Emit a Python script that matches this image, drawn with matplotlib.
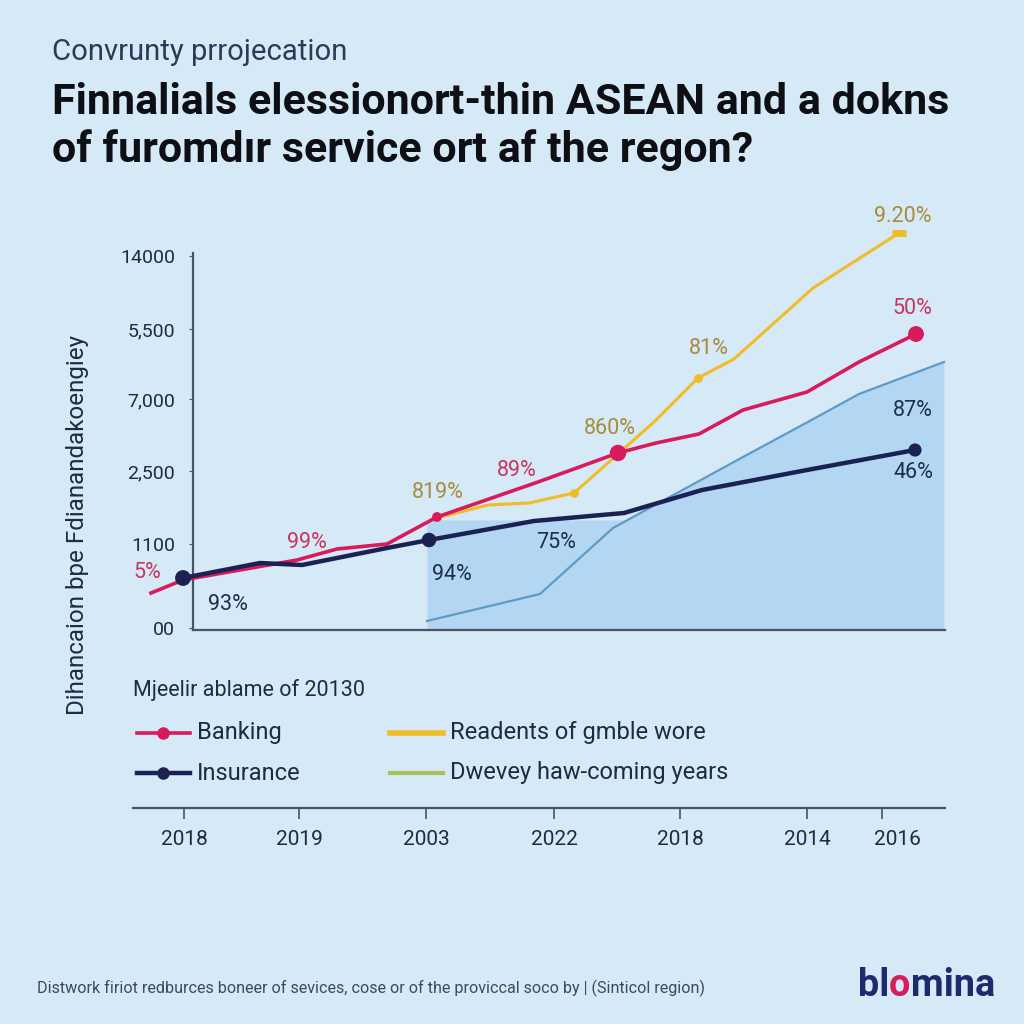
import matplotlib
matplotlib.use("Agg")
import matplotlib.pyplot as plt
from matplotlib.lines import Line2D
from matplotlib.transforms import ScaledTranslation
import numpy as np

plt.rcParams['font.family'] = ['Roboto', 'DejaVu Sans']

# ---------------- data (x in chart units, y in chart units) ----------------
banking_x = [151, 183, 297, 337, 387, 437, 538, 618, 656, 699, 743, 807, 859, 916]
banking_y = [37, 50, 70, 81, 86, 113, 148, 177, 187, 196, 220, 238, 268, 296]
banking_markers = [5, 7, 13]

readents_x = [437, 488, 529, 574, 618, 654, 698, 734, 813, 899]
readents_y = [112, 125, 127, 137, 176, 208, 252, 271, 342, 397]
readents_markers = [3, 6]

insurance_x = [183, 260, 302, 387, 429, 534, 624, 702, 807, 915]
insurance_y = [52, 67, 65, 82, 90, 109, 117, 140, 160, 180]
insurance_markers = [0, 4, 9]

coming_x = [427, 540, 613, 743, 806, 859, 944]
coming_y = [9, 36, 102, 173, 207, 236, 268]

area_x = [427, 625, 743, 806, 859, 944]
area_y = [110, 110, 173, 207, 236, 268]

ytick_vals = [2, 86, 159, 231, 301, 374]
ytick_labels = ['00', '1100', '2,500', '7,000', '5,500', '14000']

xtick_vals = [184, 299, 426, 554, 680, 807, 882]
xtick_labels = ['2018', '2019', '2003', '2022', '2018', '2014', '2016']

annot_text = ['5%', '99%', '819%', '89%', '93%', '94%', '75%', '860%', '81%', '9.20%', '50%', '87%', '46%']
annot_series = ['b', 'b', 'r', 'b', 'i', 'i', 'i', 'r', 'r', 'r', 'b', 'i', 'i']
annot_x = [147, 307, 438, 517, 228, 452, 556, 610, 709, 903, 912, 913, 913]
annot_y = [57, 87, 137, 160, 25, 55, 88, 202, 282, 413, 321, 220, 157]

legend_labels = ['Banking', 'Insurance', 'Readents of gmble wore', 'Dwevey haw-coming years']

# ---------------- styling ----------------
BG = '#d5e9f7'
PINK = '#d81b5a'
NAVY = '#1b2252'
YELLOW = '#f0bd2a'
STEEL = '#5d9bc6'
AREA = '#b2d7f2'
GREEN = '#a9c15a'
SPINE = '#465566'
TXT = '#1e2b44'
annot_colors = {'b': '#c8365f', 'r': '#a88c3a', 'i': '#1f2d4f'}

W = H = 1024
fig = plt.figure(figsize=(10.24, 10.24), dpi=100, facecolor=BG)
renderer = fig.canvas.get_renderer()


def fax(x0, y0, x1, y1):
    return fig.add_axes([x0 / W, 1 - y1 / H, (x1 - x0) / W, (y1 - y0) / H])


def fit_width(t, w):
    bb = t.get_window_extent(renderer)
    t.set_fontsize(t.get_fontsize() * w / bb.width)


# ---------------- main chart ----------------
ax = fax(193, 253, 945, 630)
ax.set_xlim(193, 945)
ax.set_ylim(0, 377)
ax.patch.set_alpha(0)
for s in ['top', 'right']:
    ax.spines[s].set_visible(False)
ax.spines['left'].set_color(SPINE)
ax.spines['bottom'].set_color(SPINE)
ax.spines['left'].set_linewidth(1.6)
ax.spines['bottom'].set_linewidth(1.6)
ax.set_xticks([])
ax.set_yticks(ytick_vals)
ax.set_yticklabels(ytick_labels)
ax.tick_params(axis='y', length=3, color=SPINE, labelsize=14, labelcolor=TXT, pad=10)

ax.fill_between(area_x, 0, area_y, color=AREA, lw=0, alpha=0.95, zorder=1)
ax.plot(coming_x, coming_y, color=STEEL, lw=1.6, zorder=2, clip_on=False)
ax.plot(readents_x, readents_y, color=YELLOW, lw=2.2, zorder=3, clip_on=False)
ax.plot(banking_x, banking_y, color=PINK, lw=2.6, zorder=4, clip_on=False)
ax.plot(insurance_x, insurance_y, color=NAVY, lw=3.2, zorder=5, clip_on=False)

bx = np.array(banking_x); by = np.array(banking_y)
ax.scatter(bx[banking_markers], by[banking_markers], s=[50, 140, 130], color=PINK, zorder=6, clip_on=False, lw=0)
rx = np.array(readents_x); ry = np.array(readents_y)
ax.scatter(rx[readents_markers], ry[readents_markers], s=40, color=YELLOW, zorder=6, clip_on=False, lw=0)
ax.plot([readents_x[-1]], [readents_y[-1]], marker='_', markersize=10, markeredgewidth=5,
        color=YELLOW, zorder=6, clip_on=False, lw=0)
ix = np.array(insurance_x); iy = np.array(insurance_y)
ax.scatter(ix[insurance_markers], iy[insurance_markers], s=[130, 110, 90], color=NAVY, zorder=7, clip_on=False, lw=0)

for t, sser, x, y in zip(annot_text, annot_series, annot_x, annot_y):
    ax.text(x, y, t, color=annot_colors[sser], fontsize=15.5, ha='center', va='center',
            zorder=8, clip_on=False)

# ---------------- x axis (separate band) ----------------
xa = fax(133, 790, 945, 808)
xa.set_xlim(133, 945)
xa.patch.set_alpha(0)
for s in ['top', 'right', 'left']:
    xa.spines[s].set_visible(False)
xa.spines['bottom'].set_color(SPINE)
xa.spines['bottom'].set_linewidth(1.6)
xa.set_yticks([])
xa.set_xticks(xtick_vals)
xa.set_xticklabels(xtick_labels)
xa.tick_params(axis='x', length=8, width=1.2, color=SPINE, labelsize=15, labelcolor=TXT, pad=8)
lbls = xa.get_xticklabels()
lbls[-1].set_transform(lbls[-1].get_transform() + ScaledTranslation(0.15, 0, fig.dpi_scale_trans))

# ---------------- legend ----------------
fig.text(133 / W, 1 - 690 / H, 'Mjeelir ablame of 20130', fontsize=15.5, color=TXT, ha='left', va='center')
leg_rows = [733, 773, 733, 773]
leg_x0 = [137, 137, 390, 390]
leg_colors = [PINK, NAVY, YELLOW, GREEN]
leg_marker = [True, True, False, False]
leg_lw = [2.6, 3.2, 4.0, 3.0]
for lab, y, x0, c, m, lw in zip(legend_labels, leg_rows, leg_x0, leg_colors, leg_marker, leg_lw):
    yy = 1 - y / H
    fig.add_artist(Line2D([x0 / W, (x0 + 53) / W], [yy, yy], transform=fig.transFigure, color=c, lw=lw))
    if m:
        fig.add_artist(Line2D([(x0 + 26) / W], [yy], transform=fig.transFigure, color=c,
                              marker='o', markersize=8, lw=0))
    tx = x0 + 60
    fig.text(tx / W, yy, lab, fontsize=17, color=TXT, ha='left', va='center')

# ---------------- titles ----------------
sub = fig.text(52 / W, 1 - 52 / H, 'Convrunty prrojecation', fontsize=20, color='#2b3a55',
               ha='left', va='center')
fit_width(sub, 295)
t1 = fig.text(52 / W, 1 - 103 / H, 'Finnalials elessionort-thin ASEAN and a dokns', fontsize=28,
              fontweight='bold', color='#0d0f14', ha='left', va='center')
fit_width(t1, 896)
t2 = fig.text(52 / W, 1 - 150 / H, 'of furomdır service ort af the regon?', fontsize=t1.get_fontsize(),
              fontweight='bold', color='#0d0f14', ha='left', va='center')

ylab = fig.text(78 / W, 1 - 525 / H, 'Dihancaion bpe Fdianandakoengiey', fontsize=15, color=TXT,
                rotation=90, ha='center', va='center')
bb = ylab.get_window_extent(renderer)
ylab.set_fontsize(ylab.get_fontsize() * 380 / bb.height)

foot = fig.text(37 / W, 1 - 988 / H,
                'Distwork firiot redburces boneer of sevices, cose or of the proviccal soco by | (Sinticol region)',
                fontsize=11, color='#3d4a5a', ha='left', va='center')
fit_width(foot, 665)

# ---------------- logo ----------------
parts = [('bl', '#1e2a6e'), ('o', PINK), ('mina', '#1e2a6e')]
size = 25
total = 0
tmp = []
for txt, c in parts:
    t = fig.text(0, 0, txt, fontsize=size, fontweight='bold')
    total += t.get_window_extent(renderer).width
    tmp.append(t)
for t in tmp:
    t.remove()
size = size * 137 / total
x = 858
for txt, c in parts:
    t = fig.text(x / W, 1 - 985 / H, txt, fontsize=size, fontweight='bold', color=c, ha='left', va='center')
    x += t.get_window_extent(renderer).width

fig.savefig('out.png', dpi=100, facecolor=BG)
